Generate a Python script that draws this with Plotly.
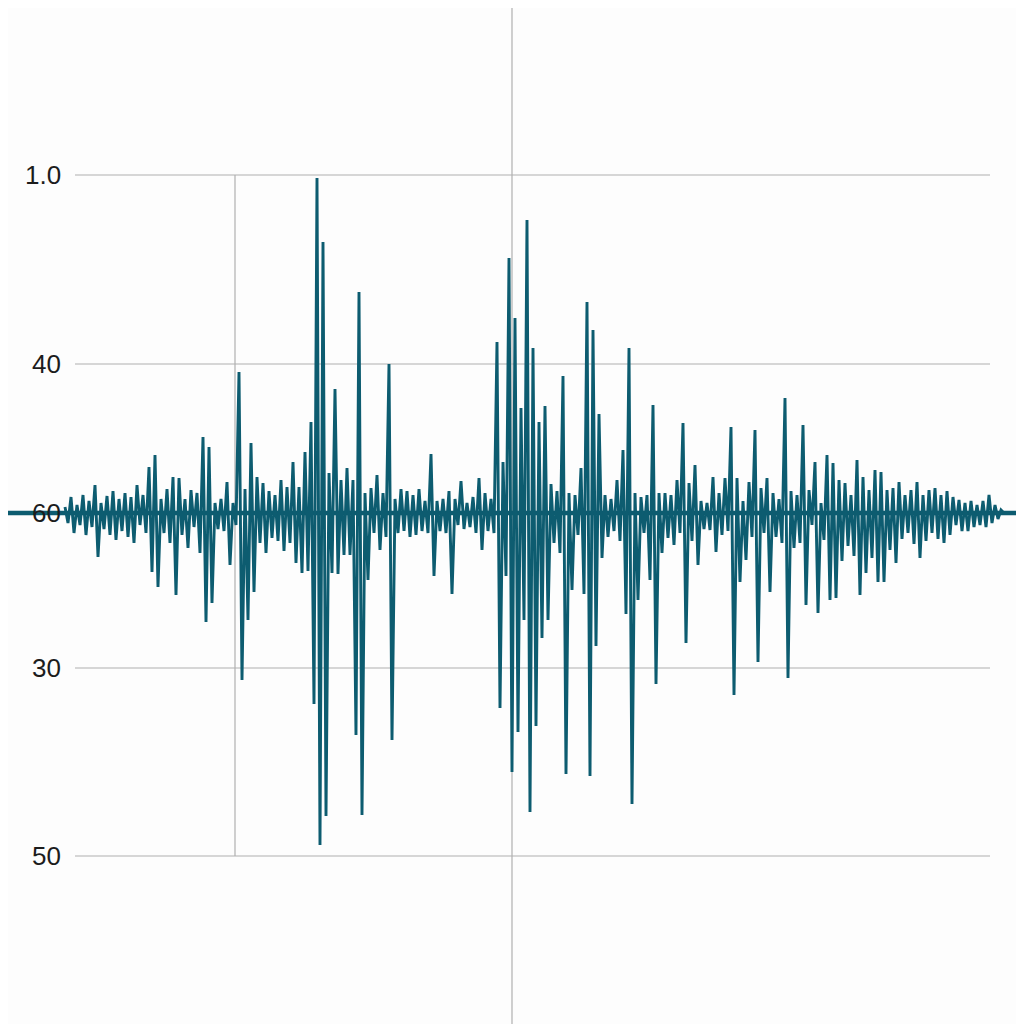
"""
Seismogram-style waveform with a few odd reference lines
"""
import numpy as np
import plotly.graph_objects as go

# sample spacing and start of the trace (same units as the x axis)
T0 = 65
DT = 3

# amplitude of each successive sample (positive = above the baseline)
amplitude = [
    6, -10, 16, -20, 8, -12, 18, -22, 12, -14,
    28, -44, 10, -16, 17, -22, 22, -27, 14, -18,
    20, -24, 16, -30, 28, -12, 18, -20, 46, -59,
    58, -74, 14, -20, 24, -30, 36, -82, 35, -22,
    14, -35, 23, -14, 20, -40, 76, -109, 66, -90,
    10, -16, 14, -18, 31, -52, 10, -12, 141, -167,
    24, -107, 70, -79, 36, -30, 30, -40, 22, -25,
    18, -28, 33, -38, 26, -30, 51, -50, 26, -60,
    61, -58, 91, -191, 335, -332, 271, -303, 40, -60,
    124, -61, 33, -42, 45, -42, 33, -222, 221, -302,
    20, -67, 25, -20, 38, -37, 20, -24, 149, -227,
    14, -20, 24, -18, 22, -24, 18, -22, 24, -18,
    12, -20, 59, -63, 12, -18, 14, -20, 22, -81,
    14, -12, 32, -16, 10, -14, 16, -20, 35, -37,
    20, -18, 14, -20, 171, -195, 51, -63, 255, -259,
    195, -219, 105, -107, 293, -299, 165, -213, 91, -125,
    107, -107, 29, -30, 22, -40, 137, -261, 20, -77,
    18, -22, 45, -81, 211, -263, 183, -133, 99, -45,
    18, -24, 14, -18, 33, -28, 63, -101, 165, -291,
    20, -87, 16, -20, 18, -67, 108, -171, 20, -40,
    20, -25, 18, -32, 33, -20, 90, -130, 30, -28,
    48, -52, 12, -16, 10, -17, 36, -39, 20, -22,
    35, -18, 86, -182, 35, -69, 12, -47, 31, -24,
    83, -149, 25, -20, 35, -79, 20, -24, 14, -30,
    115, -165, 22, -35, 18, -30, 88, -92, 23, -12,
    51, -100, 10, -27, 58, -87, 50, -85, 33, -48,
    30, -33, 18, -43, 53, -82, 36, -60, 23, -45,
    43, -69, 41, -69, 23, -37, 25, -50, 31, -26,
    18, -20, 23, -31, 31, -45, 18, -28, 23, -20,
    25, -26, 18, -30, 22, -22, 16, -12, 13, -18,
    10, -18, 12, -14, 8, -12, 12, -14, 18, -10,
    8, -6, 3, 0,
]
times = T0 + DT * np.arange(len(amplitude))

# reference lines and their (mismatched) labels
grid_levels = [338, 149, 0, -155, -343]
grid_labels = ["1.0", "40", "60", "30", "50"]

TEAL = "#0d5c70"
GRID = "#b0b0b0"

# the page body adds an 8px offset, so the ranges are shifted to compensate
X_RANGE = [8, 1032]
Y_RANGE = [-519, 505]

fig = go.Figure()

# baseline running across the whole frame
fig.add_trace(go.Scatter(
    x=[0, 1040], y=[0, 0], mode="lines",
    line=dict(color=TEAL, width=4.5), hoverinfo="skip", showlegend=False,
))

fig.add_trace(go.Scatter(
    x=times, y=amplitude, mode="lines",
    line=dict(color=TEAL, width=2.9), showlegend=False, name="signal",
))

shapes = []
for lvl in grid_levels:
    if lvl == 0:
        continue
    shapes.append(dict(type="line", xref="x", yref="y", x0=75, x1=990,
                       y0=lvl, y1=lvl, line=dict(color=GRID, width=1.2),
                       layer="below"))
# vertical markers
shapes.append(dict(type="line", xref="x", yref="paper", x0=512, x1=512,
                   y0=0, y1=1, line=dict(color=GRID, width=1.2), layer="below"))
shapes.append(dict(type="line", xref="x", yref="y", x0=235, x1=235,
                   y0=grid_levels[0], y1=grid_levels[-1],
                   line=dict(color=GRID, width=1.2), layer="below"))

annotations = [
    dict(x=63, y=lvl, xref="x", yref="y", text=txt, showarrow=False,
         xanchor="right", yanchor="middle",
         font=dict(family="Liberation Sans, Arial, sans-serif", size=26,
                   color="#1c1c1c"))
    for lvl, txt in zip(grid_levels, grid_labels)
]

fig.update_layout(
    width=1024,
    height=1024,
    margin=dict(l=0, r=0, t=0, b=0),
    paper_bgcolor="#fdfdfd",
    plot_bgcolor="#fdfdfd",
    xaxis=dict(range=X_RANGE, visible=False, fixedrange=True),
    yaxis=dict(range=Y_RANGE, visible=False, fixedrange=True),
    shapes=shapes,
    annotations=annotations,
)

fig.write_html("out.html")
